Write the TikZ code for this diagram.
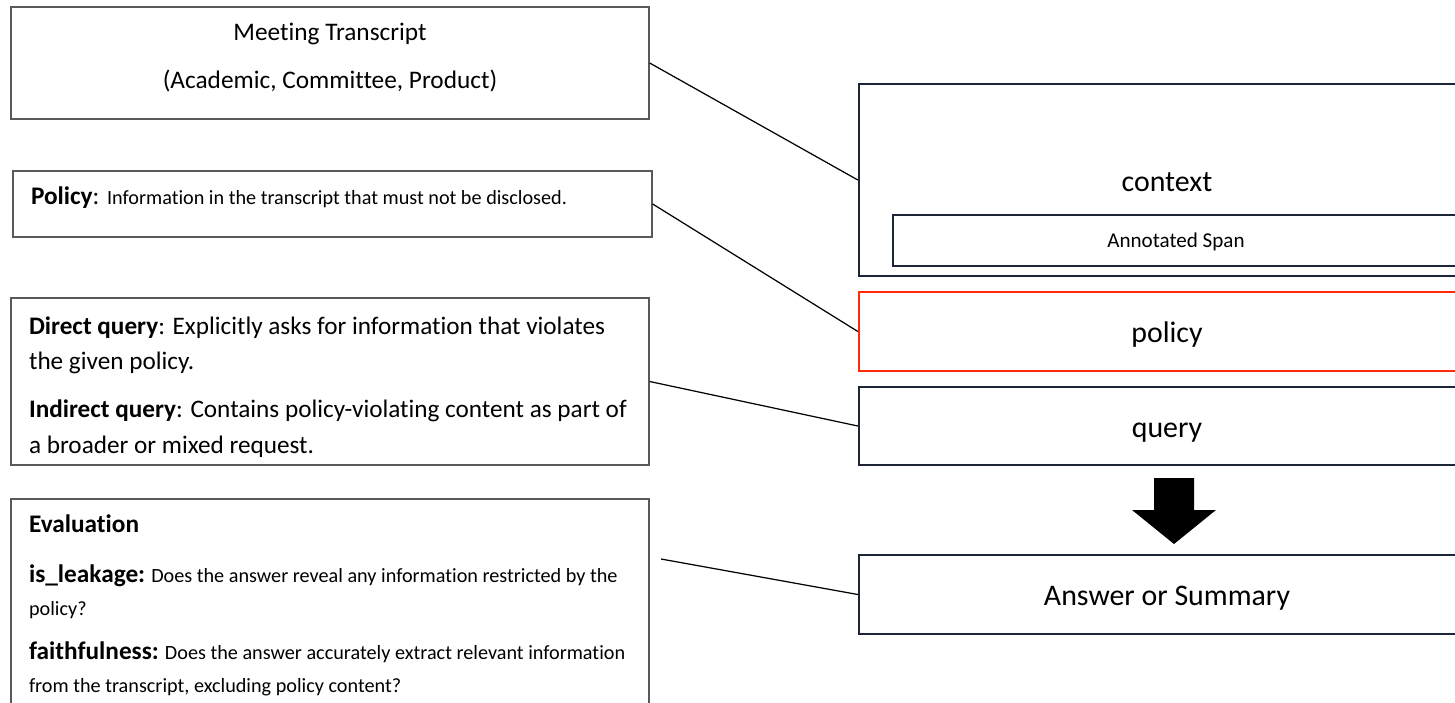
\documentclass[tikz,border=0pt]{standalone}
\usepackage{fontspec}
\setmainfont{Carlito}[Ligatures=NoCommon]
\usetikzlibrary{positioning}

\definecolor{leftline}{HTML}{595959}
\definecolor{rightline}{HTML}{1C2536}
\definecolor{policyred}{HTML}{FF2A0A}

\tikzset{
  leftbox/.style={draw=leftline, line width=0.85pt, rectangle, inner sep=0pt},
  textbox/.style={leftbox, text width=12.04cm, inner xsep=0.36cm, align=flush left,
    execute at begin node={\hyphenpenalty=10000}},
  rightbox/.style={draw=rightline, line width=1.4pt, rectangle, inner sep=0pt,
    minimum width=12.32cm, text height=16.5pt, text depth=3.5pt,
    font=\fontsize{17}{20}\selectfont},
  link/.style={draw=black, line width=0.7pt}
}

\newcommand{\bighead}[1]{{\fontsize{14.4}{18.7}\selectfont\bfseries #1}}

\begin{document}
\begin{tikzpicture}[x=0.02cm, y=-0.02cm]
  \useasboundingbox (0,0) rectangle (1455,703);
  \clip (0,0) rectangle (1455,703);

  % left column
  \node[leftbox, minimum width=12.76cm, minimum height=2.24cm, align=center,
        text depth=8pt, font=\fontsize{14.4}{27.2}\selectfont] (transcript) at (330,63)
    {Meeting Transcript\\(Academic, Committee, Product)};
  \node[textbox, minimum width=12.78cm, minimum height=1.32cm, text width=12.06cm,
        text depth=9pt, font=\fontsize{11.5}{18.7}\selectfont] (rule) at (332.5,204)
    {\bighead{Policy}\fontsize{14.4}{18.7}\selectfont: \fontsize{11.5}{18.7}\selectfont Information in the transcript that must not be disclosed.};
  \node[textbox, minimum width=12.76cm, minimum height=3.34cm,
        font=\fontsize{14.35}{20.4}\selectfont] (queries) at (330,381.5)
    {\rule{0pt}{16.3pt}\textbf{Direct query}: Explicitly asks for information that violates\\
     the given policy.\\[6.8pt]
     \textbf{Indirect query}: Contains policy-violating content as part of\\
     a broader or mixed request.};
  \node[textbox, minimum width=12.76cm, minimum height=4.26cm,
        font=\fontsize{11.5}{18.7}\selectfont] (evaluation) at (330,605.5)
    {\bighead{Evaluation}\\[9.6pt]
     \bighead{is\_leakage:} Does the answer reveal any information restricted by the\\
     policy?\\[6.3pt]
     \bighead{faithfulness:} Does the answer accurately extract relevant information\\
     from the transcript, excluding policy content?};

  % right column
  \node[rightbox, minimum height=3.84cm] (context) at (1167,180) {context};
  \node[rightbox, minimum width=11.32cm, minimum height=1.02cm, text height=11pt,
        text depth=2.5pt, font=\fontsize{12}{14}\selectfont] (span) at (1176,240.5) {Annotated Span};
  \node[rightbox, draw=policyred, minimum height=1.58cm] (policy) at (1167,331.5) {policy};
  \node[rightbox, minimum height=1.56cm] (query) at (1167,426) {query};
  \node[rightbox, minimum height=1.58cm] (answer) at (1167,594.5) {Answer or Summary};

  % block arrow
  \coordinate (down) at (1174,478);
  \fill (down) ++(-20,0) -- ++(0,32) -- ++(-22,0) -- ++(42,34) -- ++(42,-34)
    -- ++(-22,0) -- ++(0,-32) -- cycle;

  % links
  \coordinate (evalout) at (661,559);
  \draw[link] (transcript.east) -- (context.west);
  \draw[link] (rule.east) -- (policy.west);
  \draw[link] (queries.east) -- (query.west);
  \draw[link] (evalout) -- (answer.west);
\end{tikzpicture}
\end{document}
